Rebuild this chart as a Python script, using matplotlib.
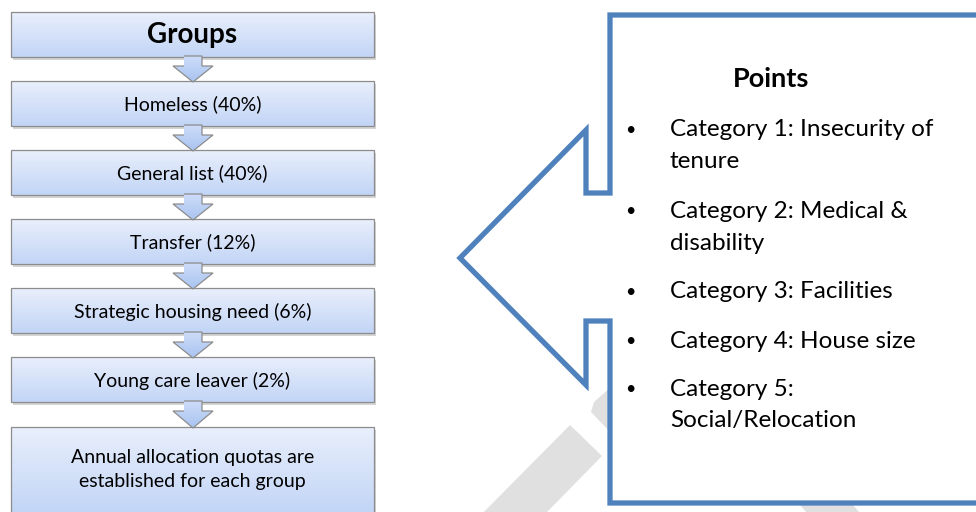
import numpy as np
import matplotlib
matplotlib.use("Agg")
import matplotlib.pyplot as plt
from matplotlib.patches import Rectangle, Polygon
from matplotlib.colors import LinearSegmentedColormap

plt.rcParams['font.family'] = ['Lato', 'DejaVu Sans']

# flow chart boxes (top to bottom)
steps = ['Groups', 'Homeless (40%)', 'General list (40%)', 'Transfer (12%)',
         'Strategic housing need (6%)', 'Young care leaver (2%)',
         'Annual allocation quotas are\nestablished for each group']
box_top = [12, 81, 150, 219, 288, 357, 427]
box_h = [45, 45, 45, 45, 45, 45, 86]

# callout text
title = 'Points'
points = ['Category 1: Insecurity of\ntenure', 'Category 2: Medical &\ndisability',
          'Category 3: Facilities', 'Category 4: House size',
          'Category 5:\nSocial/Relocation']
point_y = [130, 211, 292, 341, 389]

fig = plt.figure(figsize=(9.76, 5.12), dpi=100)
ax = fig.add_axes([0, 0, 1, 1])
ax.set_xlim(0, 976)
ax.set_ylim(512, 0)
ax.axis('off')

box_cmap = LinearSegmentedColormap.from_list('box', ['#e9effc', '#c2d5f6'])
arr_cmap = LinearSegmentedColormap.from_list('arr', ['#cddcf8', '#a9c4f1'])
grad = np.linspace(0, 1, 64).reshape(-1, 1)

# watermark bits (grey, behind the callout)
wm = '#e0e0e0'
ax.add_patch(Polygon([(570, 425), (602, 456), (500, 560), (468, 528)], closed=True,
                     fc=wm, ec='none', zorder=0))
ax.add_patch(Polygon([(612, 386), (594, 402), (591, 412), (612, 434)], closed=True,
                     fc=wm, ec='none', zorder=0))
ax.add_patch(Polygon([(800, 505), (853, 505), (860, 513), (807, 513)], closed=True,
                     fc=wm, ec='none', zorder=0))

x0, x1 = 11, 374
for i, (lab, top, h) in enumerate(zip(steps, box_top, box_h)):
    # shadow
    ax.add_patch(Rectangle((x0 + 2, top + 3), x1 - x0, h, fc='#b8b8b8', ec='none',
                           alpha=0.6, zorder=1))
    r = Rectangle((x0, top), x1 - x0, h, fc='none', ec='#8c8c8c', lw=0.9, zorder=3)
    ax.add_patch(r)
    im = ax.imshow(grad, cmap=box_cmap, extent=[x0, x1, top + h, top], origin='upper',
                   aspect='auto', zorder=2)
    im.set_clip_path(r)
    if i == 0:
        ax.text((x0 + x1) / 2, top + h / 2, lab, ha='center', va='center',
                fontsize=20, fontweight='bold', zorder=5)
    elif '\n' in lab:
        for k, line in enumerate(lab.split('\n')):
            ax.text((x0 + x1) / 2, top + 30 + k * 24, line, ha='center', va='center',
                    fontsize=14, zorder=5)
    else:
        ax.text((x0 + x1) / 2, top + h / 2 + 1, lab, ha='center', va='center',
                fontsize=14, zorder=5)

    # down arrow to the next box
    if i < len(steps) - 1:
        cx = 193
        b = top + h
        nxt = box_top[i + 1]
        pts = [(cx - 9, b - 1), (cx + 9, b - 1), (cx + 9, b + 9), (cx + 20, b + 9),
               (cx, nxt + 1), (cx - 20, b + 9), (cx - 9, b + 9)]
        ax.add_patch(Polygon(pts, closed=False, fc='none', ec='#8c8c8c', lw=0.9, zorder=6))
        ai = ax.imshow(grad, cmap=arr_cmap, extent=[cx - 20, cx + 20, nxt + 1, b - 1],
                       origin='upper', aspect='auto', zorder=5.5)
        ai.set_clip_path(Polygon(pts, closed=True, transform=ax.transData))

# left arrow callout
callout = [(610, 15), (995, 15), (995, 503), (610, 503), (610, 321), (586, 321),
           (586, 385), (460, 258), (586, 130), (586, 193), (610, 193)]
ax.add_patch(Polygon(callout, closed=True, fc='white', ec='#4f81bd', lw=3.8,
                     joinstyle='miter', zorder=2))

ax.text(771, 79, title, ha='center', va='center', fontsize=19.5, fontweight='bold', zorder=5)
for y, p in zip(point_y, points):
    ax.text(630, y, '\u2022', ha='center', va='center', fontsize=13, zorder=5)
    for k, line in enumerate(p.split('\n')):
        ax.text(670, y + k * 32, line, ha='left', va='center', fontsize=17.5, zorder=5)

fig.savefig('out.png', dpi=100)
